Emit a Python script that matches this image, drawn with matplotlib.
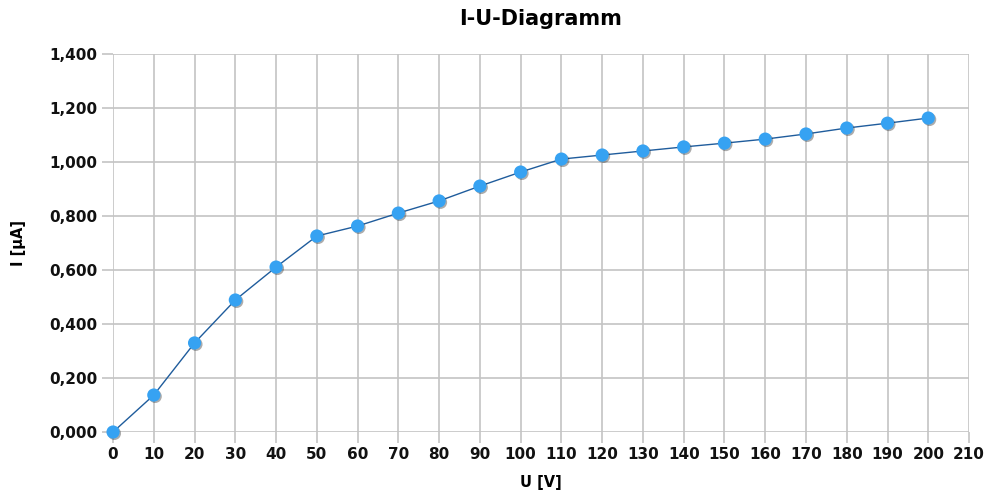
import matplotlib
matplotlib.use("Agg")
import matplotlib.pyplot as plt
import matplotlib.patheffects as pe
from matplotlib.ticker import FuncFormatter, MultipleLocator

# Measured I-U characteristic
u_volts = [0, 10, 20, 30, 40, 50, 60, 70, 80, 90, 100,
           110, 120, 130, 140, 150, 160, 170, 180, 190, 200]
i_microamp = [0.000, 0.137, 0.330, 0.489, 0.611, 0.726, 0.763, 0.811, 0.856, 0.911, 0.963,
              1.011, 1.026, 1.041, 1.056, 1.070, 1.085, 1.104, 1.126, 1.144, 1.163]

plt.rcParams['font.family'] = 'DejaVu Sans'
plt.rcParams['font.weight'] = 'bold'

fig = plt.figure(figsize=(9.89, 4.96), dpi=100)
ax = fig.add_axes([0.1143, 0.129, 0.8655, 0.762])

ax.plot(u_volts, i_microamp, color='#1f5c9c', linewidth=1.0, zorder=3, clip_on=False)
ax.plot(u_volts, i_microamp, linestyle='none', marker='o', markersize=9.5,
        markerfacecolor='#36a2f2', markeredgecolor='#36a2f2', markeredgewidth=0,
        zorder=4, clip_on=False,
        path_effects=[pe.SimplePatchShadow(offset=(1.0, -1.0), shadow_rgbFace='#303030', alpha=0.4),
                      pe.Normal()])

ax.set_xlim(0, 210)
ax.set_ylim(0, 1.4)
ax.xaxis.set_major_locator(MultipleLocator(10))
ax.yaxis.set_major_locator(MultipleLocator(0.2))
ax.yaxis.set_major_formatter(FuncFormatter(lambda v, p: f"{v:.3f}".replace('.', ',')))

for s in ax.spines.values():
    s.set_visible(False)
ax.grid(True, color='#c4c4c4', linewidth=1.2, zorder=0)
ax.set_axisbelow(True)
ax.tick_params(axis='both', length=8, width=1.2, color='#c4c4c4', labelsize=11,
               labelcolor='#111111', pad=3)

ax.set_title("I-U-Diagramm", fontsize=15, fontweight='bold', pad=21)
ax.set_xlabel("U [V]", fontsize=10.5, fontweight='bold', labelpad=9)
ax.set_ylabel("I [µA]", fontsize=10.5, fontweight='bold', labelpad=17)

fig.savefig("out.png", dpi=100)
